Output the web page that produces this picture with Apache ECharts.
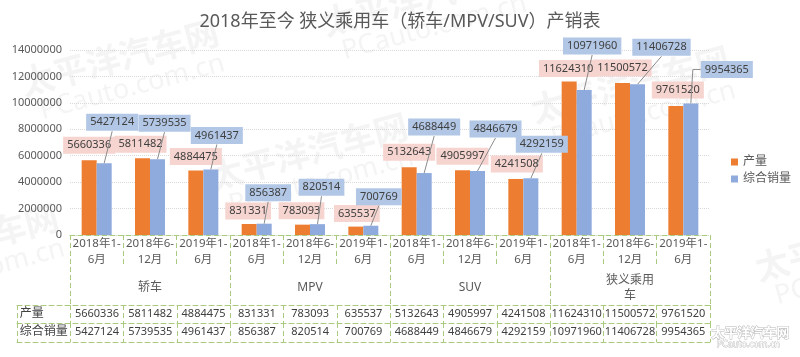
<!DOCTYPE html>
<html>
<head>
<meta charset="utf-8">
<script src="https://cdn.jsdelivr.net/npm/echarts@6/dist/echarts.min.js"></script>
<style>html,body{margin:0;padding:0;background:#fff}#c{width:800px;height:357px}</style>
</head>
<body>
<div id="c"></div>
<script>
// ---- data ----
const categories = ['2018年1-6月','2018年6-12月','2019年1-6月','2018年1-6月','2018年6-12月','2019年1-6月','2018年1-6月','2018年6-12月','2019年1-6月','2018年1-6月','2018年6-12月','2019年1-6月'];
const groups = ['轿车','MPV','SUV','狭义乘用车'];
const production = [5660336,5811482,4884475,831331,783093,635537,5132643,4905997,4241508,11624310,11500572,9761520];
const sales = [5427124,5739535,4961437,856387,820514,700769,4688449,4846679,4292159,10971960,11406728,9954365];
const seriesNames = ['产量','综合销量'];
const yTicks = {min:0, max:14000000, interval:2000000};
const titleText = '2018年至今 狭义乘用车（轿车/MPV/SUV）产销表';
const watermarkText = ['太平洋汽车网', 'PCauto.com.cn'];

// ---- label placement nudges (styling only): [dx, dy of label centre from bar top centre] ----
const nudgeProd = [[0,-15],[-2,-14],[0,-14],[-1,-13],[-1,-14],[1,-13],[0,-15],[0,-14],[1,-15],[-1,-13],[0,-15],[2,-16]];
const nudgeSales = [[8,-41],[7,-36],[6,-34],[4,-31],[4,-37],[8,-29],[10,-46],[18,-42],[11,-34],[8,-44],[24,-37],[36,-34]];

const FONT = '"Noto Sans","Noto Sans CJK SC",sans-serif';
const GREEN = '#A9CB7E';
const dash = {color: GREEN, type: [5,3], width: 1};
const TXT = '#595959';
const BAR_W = 15;
const LABEL_FS = 11;

function placer(nudge) {
  return p => {
    const r = p.rect;
    const n = nudge[p.dataIndex];
    return {x: r.x + r.width / 2 + n[0], y: r.y + n[1], align: 'center', verticalAlign: 'middle'};
  };
}
function headerFmt(v, i) { return i === 0 ? '{h|' + v + '}' : v; }
const headerRich = {h: {width: 48, align: 'left', fontSize: 12, color: '#404040'}};

// leader lines for the sales labels, anchored on the sales bars via the chart's own scales
function leaderRender(params, api) {
  const i = api.value(0);
  const v = api.value(1);
  const p = api.coord([i, v]);
  const bx = p[0] + BAR_W / 2;
  const by = p[1];
  const n = nudgeSales[i];
  const cx = bx + n[0];
  const cy = by + n[1];
  const hw = (String(v).length * LABEL_FS * 0.572 + 8) / 2;
  const hh = 9;
  let pts;
  if (cx - hw > bx + 3) {
    pts = [[bx, by], [bx + 2, cy], [cx - hw, cy]];
  } else {
    pts = [[bx, by], [cx, cy + hh]];
  }
  return {
    type: 'polyline', silent: true,
    shape: {points: pts},
    style: {stroke: '#8C8C8C', lineWidth: 1, fill: null}
  };
}

// faint watermark (decoration)
function wm(x, y) {
  const fill = 'rgba(228,228,228,0.4)';
  return {
    type: 'group', x: x, y: y, rotation: 0.26, silent: true, z: 100,
    children: [
      {type: 'text', x: 0, y: 0, style: {text: watermarkText[0], fontSize: 34, fontWeight: 'bold',
        fontFamily: '"Noto Sans CJK SC",sans-serif', fill: fill, verticalAlign: 'bottom'}},
      {type: 'text', x: 12, y: 2, style: {text: watermarkText[1], fontSize: 27,
        fontFamily: '"Noto Sans",sans-serif', fill: fill, verticalAlign: 'top'}}
    ]
  };
}

const chart = echarts.init(document.getElementById('c'), null, {renderer:'canvas'});
const option = {
  backgroundColor: '#ffffff',
  animation: false,
  textStyle: {fontFamily: FONT},
  title: {
    text: titleText,
    left: 'center', top: 8,
    textStyle: {fontSize: 18, fontWeight: 'normal', color: TXT, fontFamily: FONT}
  },
  legend: {
    orient: 'vertical', left: 726, top: 151,
    itemWidth: 7, itemHeight: 7, itemGap: 5, icon: 'rect',
    textStyle: {fontSize: 12, color: TXT, fontFamily: FONT},
    data: seriesNames
  },
  graphic: [
    wm(25, 100), wm(327, 40), wm(214, 194), wm(536, 127), wm(-135, 285), wm(760, 285),
    {
      type: 'group', right: 10, bottom: 8, silent: true, z: 100,
      children: [
        {type: 'text', x: 0, y: 0, style: {text: watermarkText[0], fontSize: 13, fontWeight: 'bold',
          fontFamily: '"Noto Sans CJK SC",sans-serif', fill: '#ffffff', stroke: '#b8b8b8', lineWidth: 1}},
        {type: 'text', x: 5, y: 14, style: {text: watermarkText[1], fontSize: 9,
          fontFamily: '"Noto Sans",sans-serif', fill: '#ffffff', stroke: '#b8b8b8', lineWidth: 0.8}}
      ]
    }
  ],
  grid: [
    {left: 70, right: 90, top: 50, bottom: 122},
    {left: 17, right: 90, top: 305, bottom: 34},
    {left: 17, right: 90, top: 323, bottom: 15}
  ],
  xAxis: [
    {
      type: 'category', gridIndex: 0, data: categories, position: 'bottom',
      axisLine: {show: true, onZero: false, lineStyle: dash},
      axisTick: {show: true, interval: 0, length: 32, lineStyle: dash},
      axisLabel: {interval: 0, margin: 1, color: TXT, fontSize: 11.5, lineHeight: 16,
        formatter: v => v.replace('-', '-\n')}
    },
    {
      type: 'category', gridIndex: 0, data: groups, position: 'bottom',
      axisLine: {show: false, onZero: false},
      axisTick: {show: true, interval: 0, length: 70, lineStyle: dash},
      axisLabel: {interval: 0, margin: 53, color: TXT, fontSize: 12, lineHeight: 15,
        verticalAlign: 'middle', width: 54, overflow: 'break'}
    },
    {
      type: 'category', gridIndex: 1, position: 'top',
      data: [seriesNames[0]].concat(production.map(String)),
      axisLine: {show: true, onZero: false, lineStyle: dash},
      axisTick: {show: true, inside: true, interval: 0, length: 18, lineStyle: dash},
      axisLabel: {inside: true, interval: 0, margin: 3, color: '#404040', fontSize: 11,
        verticalAlign: 'top', formatter: headerFmt, rich: headerRich}
    },
    {
      type: 'category', gridIndex: 2, position: 'top',
      data: [seriesNames[1]].concat(sales.map(String)),
      axisLine: {show: true, onZero: false, lineStyle: dash},
      axisTick: {show: true, inside: true, interval: 0, length: 19, lineStyle: dash},
      axisLabel: {inside: true, interval: 0, margin: 3, color: '#404040', fontSize: 11,
        verticalAlign: 'top', formatter: headerFmt, rich: headerRich}
    },
    {
      type: 'category', gridIndex: 2, position: 'bottom',
      data: [seriesNames[1]].concat(sales.map(String)),
      axisLine: {show: true, onZero: false, lineStyle: dash},
      axisTick: {show: false},
      axisLabel: {show: false}
    }
  ],
  yAxis: [
    {
      type: 'value', gridIndex: 0, min: yTicks.min, max: yTicks.max, interval: yTicks.interval,
      axisLine: {show: false}, axisTick: {show: false},
      axisLabel: {color: TXT, fontSize: 11, margin: 8, formatter: v => String(v)},
      splitLine: {show: true, lineStyle: {color: '#D9D9D9', type: 'dotted', width: 1}}
    },
    {type: 'value', gridIndex: 1, show: false, min: 0, max: 1},
    {type: 'value', gridIndex: 2, show: false, min: 0, max: 1}
  ],
  series: [
    {
      name: seriesNames[0], type: 'bar', xAxisIndex: 0, yAxisIndex: 0, z: 2,
      data: production, barWidth: BAR_W, barGap: '0%',
      itemStyle: {color: '#ED7D31'},
      label: {show: true, position: 'top', distance: 7, color: '#404040', fontSize: LABEL_FS,
        backgroundColor: '#F6D4CF', padding: [3, 4]},
      labelLayout: placer(nudgeProd)
    },
    {
      name: 'leader', type: 'custom', xAxisIndex: 0, yAxisIndex: 0, z: 3,
      data: sales.map((v, i) => [i, v]),
      renderItem: leaderRender, silent: true, tooltip: {show: false}
    },
    {
      name: seriesNames[1], type: 'bar', xAxisIndex: 0, yAxisIndex: 0, z: 4,
      data: sales, barWidth: BAR_W, barGap: '0%',
      itemStyle: {color: '#8FAADC'},
      label: {show: true, position: 'top', distance: 0, color: '#404040', fontSize: LABEL_FS,
        backgroundColor: '#B2C7E6', padding: [3, 4]},
      labelLayout: placer(nudgeSales)
    }
  ]
};
chart.setOption(option);
</script>
</body>
</html>
